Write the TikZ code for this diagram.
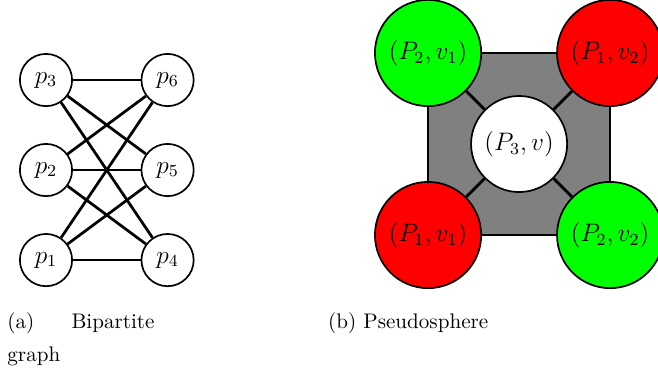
\documentclass[tikz,border=0pt]{standalone}
\usepackage{amsmath,amssymb}
\usepackage{tikz}
\usetikzlibrary{positioning, calc}
\usepackage{xcolor}
\definecolor{pgreen}{RGB}{0,255,0}
\definecolor{pred}{RGB}{255,0,0}
\definecolor{pgray}{RGB}{128,128,128}
\tikzset{
  lbl/.style={font=\fontsize{11.5}{13}\selectfont},
  vnode/.style={draw, thick, circle, fill=white, minimum size=0.87cm, inner sep=0pt, lbl},
  gnode/.style={draw, thick, circle, fill=pgreen, minimum size=1.77cm, inner sep=0pt, lbl},
  rnode/.style={draw, thick, circle, fill=pred, minimum size=1.77cm, inner sep=0pt, lbl},
  cnode/.style={draw, thick, circle, fill=white, minimum size=1.6cm, inner sep=0pt, lbl},
  edge/.style={line width=1.3pt, black},
}

\begin{document}
\begin{tikzpicture}
  \useasboundingbox (0,0) rectangle (10.96,-6.21);

  % (a) bipartite graph
  \node[vnode] (p3) at (0.766,-1.333) {$p_3$};
  \node[vnode] (p2) at (0.766,-2.832) {$p_2$};
  \node[vnode] (p1) at (0.766,-4.332) {$p_1$};
  \node[vnode] (p6) at (2.791,-1.333) {$p_6$};
  \node[vnode] (p5) at (2.791,-2.832) {$p_5$};
  \node[vnode] (p4) at (2.791,-4.332) {$p_4$};

  \foreach \a in {p1,p2,p3}
    \foreach \b in {p4,p5,p6}
      \draw[edge] (\a) -- (\b);

  \node[anchor=base west, text width=2.45cm, align=left, inner sep=0pt]
    (capa) at (0.117,-5.464) {(a)\hfill Bipartite\\[4pt]graph};

  % (b) pseudosphere
  \coordinate (sq1) at (7.130,-0.883);
  \coordinate (sq2) at (10.163,-3.915);
  \draw[very thick, fill=pgray] (sq1) rectangle (sq2);

  \node[cnode] (c) at ($(sq1)!0.5!(sq2)$) {$(P_3,v)$};
  \node[gnode] (tl) at (sq1) {$(P_2,v_1)$};
  \node[rnode] (tr) at (sq1 -| sq2) {$(P_1,v_2)$};
  \node[rnode] (bl) at (sq1 |- sq2) {$(P_1,v_1)$};
  \node[gnode] (br) at (sq2) {$(P_2,v_2)$};

  \foreach \k in {tl,tr,bl,br}
    \draw[edge] (c) -- (\k);

  \node[anchor=base, inner sep=0pt] (capb) at (6.80,-5.464) {(b) Pseudosphere};
\end{tikzpicture}
\end{document}
